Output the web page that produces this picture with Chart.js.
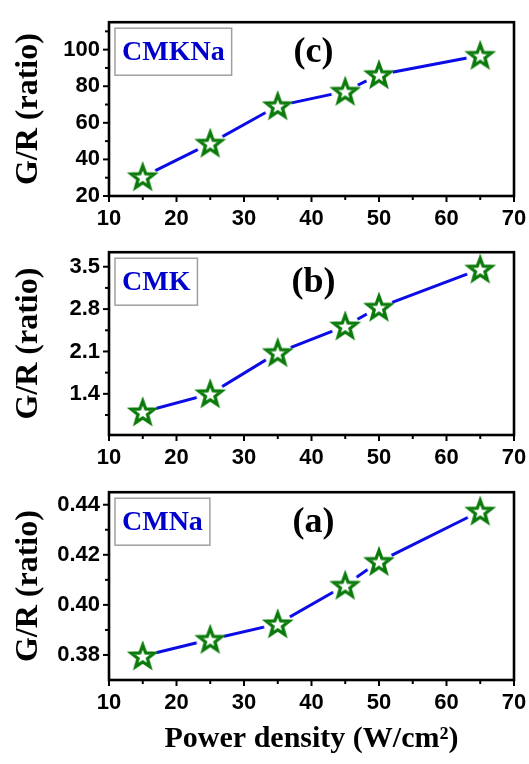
<!DOCTYPE html>
<html><head><meta charset="utf-8">
<script src="https://cdn.jsdelivr.net/npm/chart.js@4.4.0/dist/chart.umd.min.js"></script>
<style>
html,body{margin:0;padding:0;background:#fff;}
#wrap{position:relative;width:529px;height:764px;}
.p{position:absolute;left:0;width:529px;}
</style></head><body>
<div id="wrap">
<div class="p" style="top:0;height:230px"><canvas id="cC"></canvas></div>
<div class="p" style="top:230px;height:240px"><canvas id="cB"></canvas></div>
<div class="p" style="top:470px;height:294px"><canvas id="cA"></canvas></div>
</div>
<script>
const powerDensity = [15, 25, 35, 45, 50, 65];
const grCMKNa = [30.5, 48.8, 69.3, 77.2, 86.3, 96.8];
const grCMK = [1.10, 1.40, 2.08, 2.52, 2.83, 3.46];
const grCMNa = [0.3796, 0.3862, 0.3924, 0.4078, 0.4173, 0.4374];
const xTicks = [10, 20, 30, 40, 50, 60, 70];
const xMinorTicks = [15, 25, 35, 45, 55, 65];
const yTicksC = [20, 40, 60, 80, 100];
const yMinorC = [30, 50, 70, 90, 110];
const yTicksB = [1.4, 2.1, 2.8, 3.5];
const yMinorB = [1.05, 1.75, 2.45, 3.15];
const yTicksA = [0.38, 0.40, 0.42, 0.44];
const yMinorA = [0.39, 0.41, 0.43];
const sampleNames = ['CMKNa', 'CMK', 'CMNa'];
const panelLetters = ['(c)', '(b)', '(a)'];
const xTitle = 'Power density (W/cm²)';
const yTitle = 'G/R (ratio)';

const GREEN = '#0a7a0a';
const BLUE = '#0c0ce6';
const SERIF = '"Liberation Serif", "Times New Roman", serif';
const SANS = '"Liberation Sans", Arial, sans-serif';

function makeStar() {
  const c = document.createElement('canvas');
  c.width = 34; c.height = 34;
  const g = c.getContext('2d');
  g.fillStyle = '#fff';
  g.beginPath(); g.arc(17, 17, 14, 0, Math.PI * 2); g.fill();
  g.beginPath();
  for (let i = 0; i < 10; i++) {
    const r = i % 2 ? 5 : 12;
    const a = -Math.PI / 2 + i * Math.PI / 5;
    g.lineTo(17 + r * Math.cos(a), 18 + r * Math.sin(a));
  }
  g.closePath();
  g.fillStyle = '#fff'; g.fill();
  g.lineWidth = 3.3; g.strokeStyle = GREEN; g.lineJoin = 'miter'; g.stroke();
  return c;
}
const starImg = makeStar();

const framePlugin = {
  id: 'frame',
  afterDraw(chart, args, o) {
    const {ctx, chartArea: a, scales: {x, y}} = chart;
    ctx.save();
    ctx.strokeStyle = '#000';
    ctx.lineWidth = 2;
    const tick = (px, py, dx, dy) => { ctx.beginPath(); ctx.moveTo(px, py); ctx.lineTo(px + dx, py + dy); ctx.stroke(); };
    xTicks.forEach(v => tick(x.getPixelForValue(v), a.bottom, 0, 6));
    xMinorTicks.forEach(v => tick(x.getPixelForValue(v), a.bottom, 0, 4));
    o.yMajor.forEach(v => tick(a.left, y.getPixelForValue(v), -6, 0));
    o.yMinor.forEach(v => tick(a.left, y.getPixelForValue(v), -4, 0));
    ctx.lineWidth = 2.6;
    ctx.strokeRect(a.left, a.top, a.right - a.left, a.bottom - a.top);
    // sample label box
    ctx.font = 'bold 28px ' + SERIF;
    const w = ctx.measureText(o.name).width + 14;
    ctx.fillStyle = '#fff';
    ctx.fillRect(a.left + 6, a.top + 6, w, 47);
    ctx.strokeStyle = '#a0a0a0'; ctx.lineWidth = 1.5;
    ctx.strokeRect(a.left + 6, a.top + 6, w, 47);
    ctx.fillStyle = '#0000cc'; ctx.textBaseline = 'middle'; ctx.textAlign = 'left';
    ctx.fillText(o.name, a.left + 13, a.top + 31);
    ctx.font = 'bold 36px ' + SERIF;
    ctx.fillStyle = '#000'; ctx.textAlign = 'center';
    ctx.fillText(o.letter, (a.left + a.right) / 2 + 2, a.top + 31);
    ctx.restore();
  }
};

function makeChart(id, values, yMin, yMax, yMajor, yMinor, decimals, name, letter, padTop, xAxisH, showXTitle) {
  return new Chart(document.getElementById(id), {
    type: 'line',
    data: {
      datasets: [{
        data: powerDensity.map((xv, i) => ({x: xv, y: values[i]})),
        borderColor: BLUE, borderWidth: 3,
        pointStyle: starImg, pointRadius: 12, pointHoverRadius: 12,
        fill: false, tension: 0, clip: 20
      }]
    },
    options: {
      responsive: true, maintainAspectRatio: false, animation: false, events: [],
      layout: {padding: {top: padTop, right: 15, left: 0, bottom: 0}},
      plugins: {legend: {display: false}, tooltip: {enabled: false},
        frame: {yMajor, yMinor, name, letter}},
      scales: {
        x: {
          type: 'linear', min: 10, max: 70,
          afterBuildTicks: s => { s.ticks = xTicks.map(v => ({value: v})); },
          afterFit: s => { s.height = xAxisH; s.paddingRight = 0; s.paddingLeft = 0; },
          grid: {display: false, drawTicks: false}, border: {display: false},
          ticks: {font: {family: SANS, weight: 'bold', size: 22}, color: '#000', padding: 10, maxRotation: 0, autoSkip: false},
          title: {display: showXTitle, text: xTitle, color: '#000',
            font: {family: SERIF, weight: 'bold', size: 30}, padding: {top: 0, bottom: 7}}
        },
        y: {
          type: 'linear', min: yMin, max: yMax,
          afterBuildTicks: s => { s.ticks = yMajor.map(v => ({value: v})); },
          afterFit: s => { s.width = 109; },
          grid: {display: false, drawTicks: false}, border: {display: false},
          ticks: {font: {family: SANS, weight: 'bold', size: 22}, color: '#000', padding: 9,
            callback: v => Number(v).toFixed(decimals)},
          title: {display: true, text: yTitle, color: '#000',
            font: {family: SERIF, weight: 'bold', size: 32}, padding: {top: 10, bottom: 0}}
        }
      }
    },
    plugins: [framePlugin]
  });
}

makeChart('cC', grCMKNa, 20, 115, yTicksC, yMinorC, 0, sampleNames[0], panelLetters[0], 5, 34, false);
makeChart('cB', grCMK, 0.72, 3.74, yTicksB, yMinorB, 1, sampleNames[1], panelLetters[1], 17, 35, false);
makeChart('cA', grCMNa, 0.370, 0.445, yTicksA, yMinorA, 2, sampleNames[2], panelLetters[2], 22, 84, true);
</script>
</body></html>
